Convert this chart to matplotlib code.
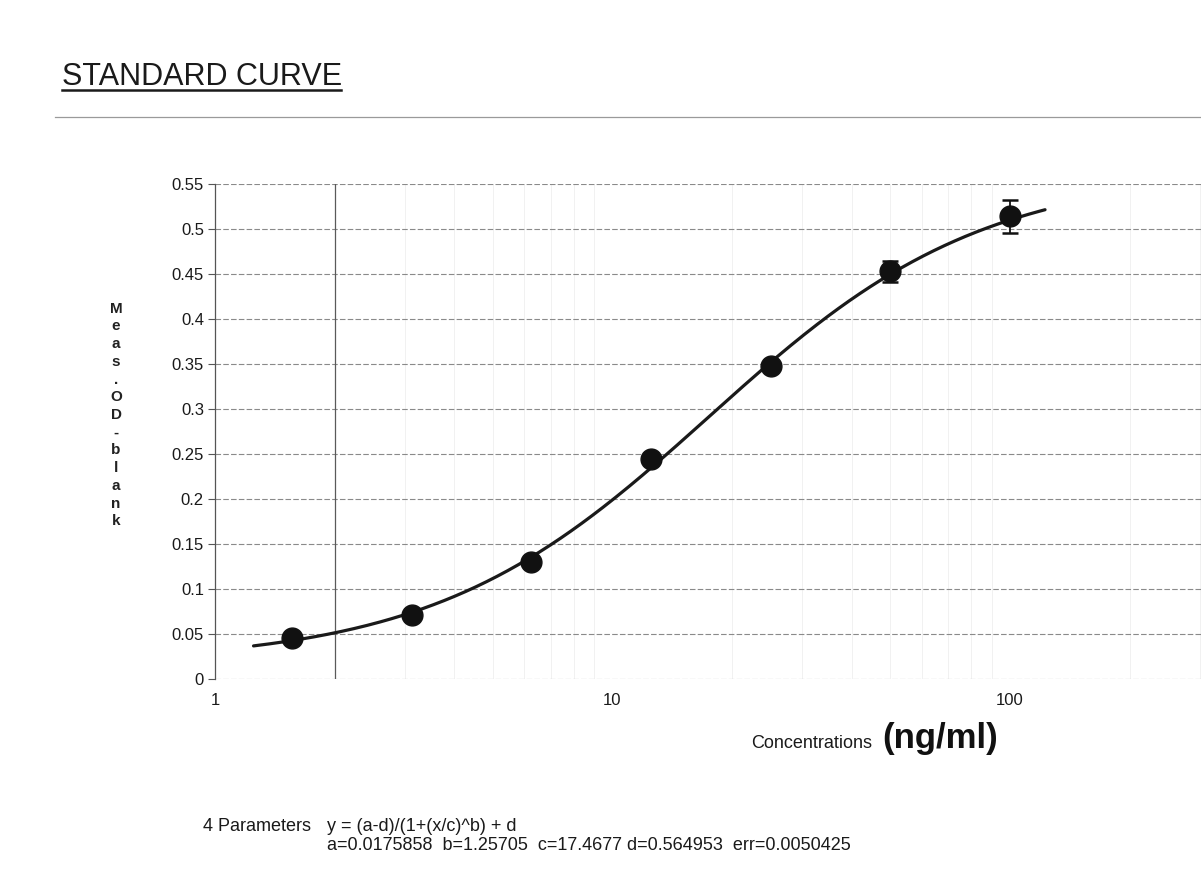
import numpy as np
import matplotlib
matplotlib.use("Agg")
import matplotlib.pyplot as plt
from matplotlib.ticker import FixedLocator, FixedFormatter, NullFormatter

# Standard dilution series (ng/ml) and blank-corrected OD readings
concentrations = [1.5625, 3.125, 6.25, 12.5, 25, 50, 100]
od_values = [0.046, 0.071, 0.130, 0.245, 0.348, 0.453, 0.514]
od_errors = [0.002, 0.002, 0.003, 0.004, 0.004, 0.012, 0.018]

# 4-parameter logistic fit
fit_a = 0.0175858
fit_b = 1.25705
fit_c = 17.4677
fit_d = 0.564953
fit_err = 0.0050425
fit_range = (1.25, 122.5)

y_ticks = [0, 0.05, 0.1, 0.15, 0.2, 0.25, 0.3, 0.35, 0.4, 0.45, 0.5, 0.55]
y_tick_labels = ["0", "0.05", "0.1", "0.15", "0.2", "0.25", "0.3", "0.35",
                 "0.4", "0.45", "0.5", "0.55"]
x_ticks = [1, 10, 100]
x_tick_labels = ["1", "10", "100"]

plt.rcParams["font.family"] = ["Liberation Sans", "DejaVu Sans"]

W, H = 1201, 869
fig = plt.figure(figsize=(W / 100, H / 100), dpi=100)
fig.patch.set_facecolor("white")


def fx(px):
    return px / W


def fy(py):
    return 1 - py / H


# axes: x=1 at px 215, one decade = 397.5 px, y from 0 (px 679) to 0.55 (px 184)
left_px, decade_px = 215, 397.5
ax = fig.add_axes([fx(left_px), fy(679), (W - left_px) / W, (679 - 184) / H])
ax.set_xscale("log")
ax.set_xlim(1, 10 ** ((W - left_px) / decade_px))
ax.set_ylim(0, 0.55)

for side in ("top", "right", "bottom"):
    ax.spines[side].set_visible(False)
ax.spines["left"].set_color("#555555")
ax.spines["left"].set_linewidth(0.9)

ax.yaxis.set_major_locator(FixedLocator(y_ticks))
ax.yaxis.set_major_formatter(FixedFormatter(y_tick_labels))
ax.xaxis.set_major_locator(FixedLocator(x_ticks))
ax.xaxis.set_major_formatter(FixedFormatter(x_tick_labels))
ax.xaxis.set_minor_formatter(NullFormatter())
ax.tick_params(axis="y", direction="out", length=5, width=0.8, color="#555555",
               labelsize=12, pad=3, labelcolor="#1a1a1a")
ax.tick_params(axis="x", which="both", length=0, labelsize=12, pad=10,
               labelcolor="#1a1a1a")

# gridlines
ax.grid(axis="y", which="major", color="#8a8a8a", linestyle=(0, (5, 2)), linewidth=0.8)
ax.grid(axis="x", which="minor", color="#efefef", linewidth=0.6)
ax.axvline(2, color="#5a5a5a", linewidth=0.9, zorder=2)

# fitted curve
xs = np.logspace(np.log10(fit_range[0]), np.log10(fit_range[1]), 300)
ys = (fit_a - fit_d) / (1 + (xs / fit_c) ** fit_b) + fit_d
ax.plot(xs, ys, color="#1a1a1a", linewidth=2.3, zorder=3, solid_capstyle="round")

# measured standards
ax.errorbar(concentrations, od_values, yerr=od_errors, fmt="o", color="#111111",
            markersize=15, capsize=6, elinewidth=1.3, capthick=1.8, zorder=4)

# title and rules
fig.text(fx(62), fy(85), "STANDARD CURVE", fontsize=22, color="#1a1a1a",
         ha="left", va="baseline")
fig.add_artist(plt.Line2D([fx(62), fx(341)], [fy(89.5), fy(89.5)],
                          color="#1a1a1a", linewidth=1.8))
fig.add_artist(plt.Line2D([fx(55), 1.0], [fy(117), fy(117)],
                          color="#9a9a9a", linewidth=0.9))

# stacked y-axis title
fig.text(fx(116), fy(415), "\n".join("Meas. OD - blank".replace(" ", "")),
         fontsize=11, fontweight="bold", color="#222222", ha="center", va="center",
         linespacing=1.34)

# x-axis title
fig.text(fx(872), fy(748), "Concentrations", fontsize=13,
         color="#1a1a1a", ha="right", va="baseline")
fig.text(fx(882), fy(748), "(ng/ml)", fontsize=25, fontweight="bold",
         color="#111111", ha="left", va="baseline")

# fit equation and parameters
fig.text(fx(203), fy(831), "4 Parameters", fontsize=13,
         color="#1a1a1a", ha="left", va="baseline")
fig.text(fx(327), fy(831), "y = (a-d)/(1+(x/c)^b) + d", fontsize=13,
         color="#1a1a1a", ha="left", va="baseline")
fig.text(fx(327), fy(850),
         f"a={fit_a}  b={fit_b}  c={fit_c} d={fit_d}  err={fit_err}",
         fontsize=13, color="#1a1a1a", ha="left", va="baseline")

fig.savefig("out.png", dpi=100, facecolor="white")
